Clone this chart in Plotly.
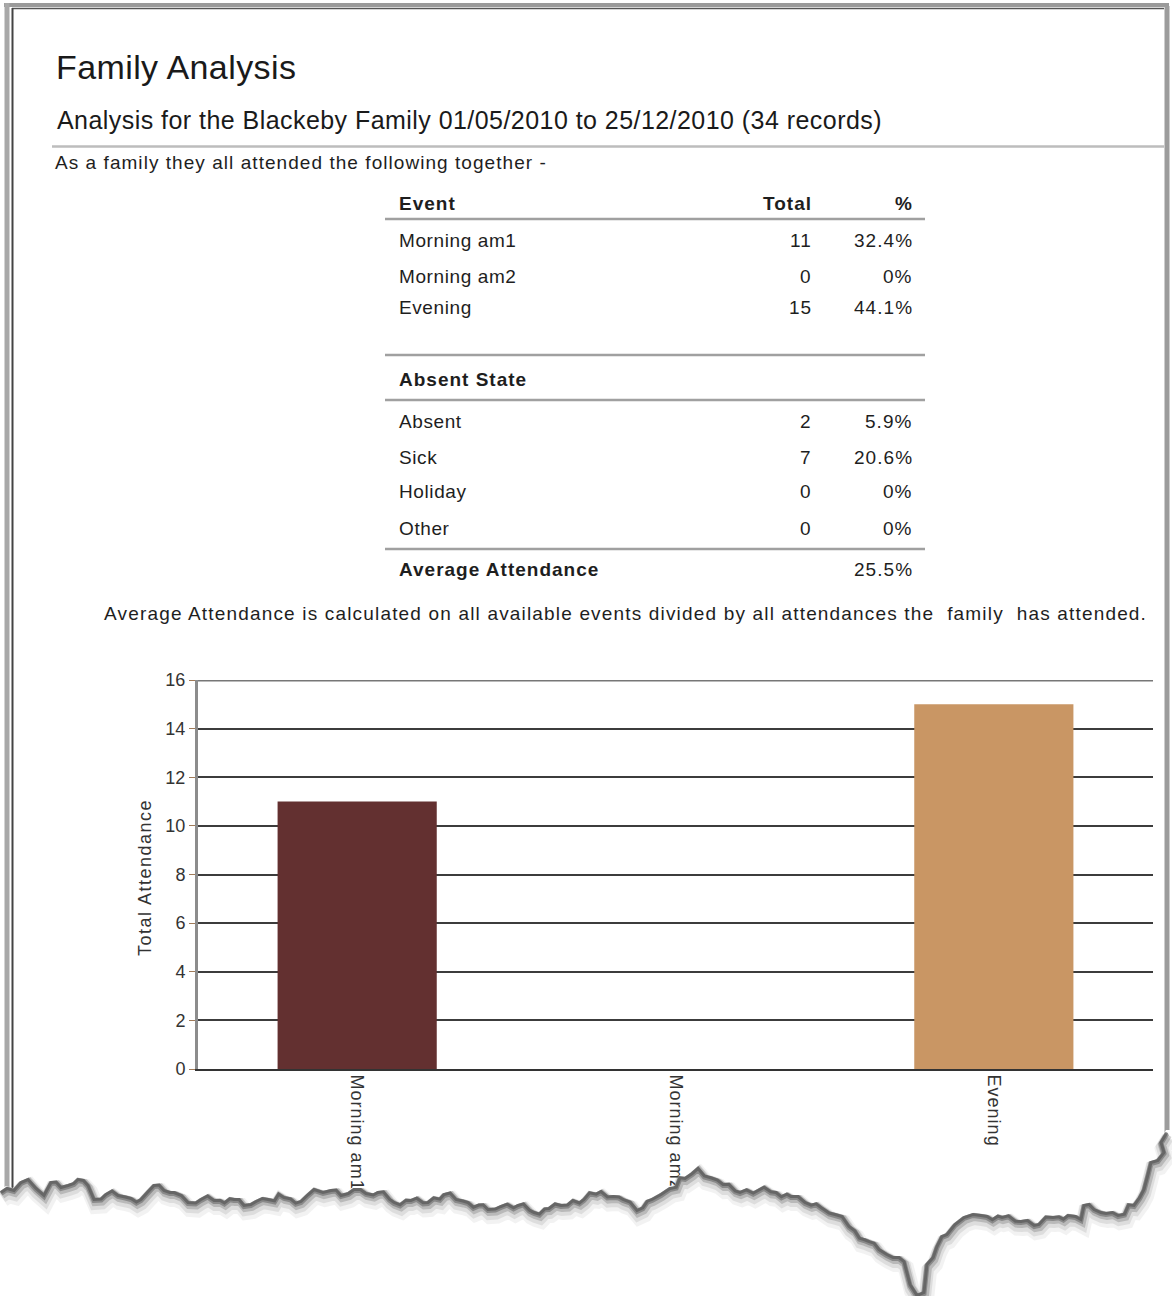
import plotly.graph_objects as go

# ---- report data -------------------------------------------------------
family = "Blackeby"
date_from, date_to = "01/05/2010", "25/12/2010"
records = 34

events = ["Morning am1", "Morning am2", "Evening"]
event_totals = [11, 0, 15]
bar_colors = ["#633030", "#C99664"]  # am2 has no bar drawn (zero)

absent_states = ["Absent", "Sick", "Holiday", "Other"]
absent_totals = [2, 7, 0, 0]

average_attendance = 25.5

y_ticks = [0, 2, 4, 6, 8, 10, 12, 14, 16]

# ---- page geometry (pixels) ---------------------------------------------
W, H = 1172, 1296
PL, PR, PT, PB = 198, 1153, 680, 1069  # chart plotting box


def px(x):
    return (x - PL) / (PR - PL)


def py(y):
    return (PB - y) / (PB - PT)


FONT = "Arial, 'Liberation Sans', sans-serif"
INK = "#1e1e1e"
BODY_SIZE, BODY_LS = 19, 1.05


def pct(v):
    return "0%" if v == 0 else f"{v / records * 100:.1f}%"


def spaced(text, ls):
    return f'<span style="letter-spacing:{ls}px">{text}</span>' if ls else text


annotations = []
shapes = []


def label(x, y, text, size=BODY_SIZE, anchor="left", bold=False, ls=BODY_LS, color=INK, angle=0):
    t = spaced(text, ls)
    if bold:
        t = f"<b>{t}</b>"
    annotations.append(dict(
        x=px(x), y=py(y), xref="paper", yref="paper", text=t, showarrow=False,
        xanchor=anchor, yanchor="middle", textangle=angle,
        font=dict(family=FONT, size=size, color=color), borderpad=0))


def hline(x0, x1, y, color="#a0a0a0", width=2.5):
    shapes.append(dict(type="line", xref="paper", yref="paper",
                       x0=px(x0), x1=px(x1), y0=py(y), y1=py(y),
                       line=dict(color=color, width=width), layer="above"))


def vline(x, y0, y1, color, width):
    shapes.append(dict(type="line", xref="paper", yref="paper",
                       x0=px(x), x1=px(x), y0=py(y0), y1=py(y1),
                       line=dict(color=color, width=width), layer="above"))


# ---- page frame ----------------------------------------------------------
hline(4, 1169, 5, "#9a9a9a", 4)
hline(12, 1164, 8.5, "#555555", 1.5)
vline(7, 3, 1205, "#a8a8a8", 5)
vline(12.5, 8, 1205, "#444444", 2)
vline(1167, 6, 1140, "#9c9c9c", 5)

# ---- headings -------------------------------------------------------------
label(55, 67, "Family Analysis", size=34, ls=0.4, color="#1a1a1a")
label(56, 120, f"Analysis for the {family} Family {date_from} to {date_to} ({records} records)",
      size=25, ls=0.45, color="#1a1a1a")
hline(52, 1164, 146.5, "#bdbdbd", 2.5)
label(54, 162, "As a family they all attended the following together -")

# ---- summary table --------------------------------------------------------
TX0, TX1 = 385, 925
C_NAME, C_TOT, C_PCT = 398, 813, 914

label(C_NAME, 204, "Event", bold=True, ls=1.0)
label(C_TOT, 204, "Total", bold=True, anchor="right", ls=1.0)
label(C_PCT, 204, "%", bold=True, anchor="right", ls=1.0)
hline(TX0, TX1, 219)

for name, tot, y in zip(events, event_totals, [241, 276, 307]):
    label(C_NAME, y, name, ls=0.6)
    label(C_TOT, y, str(tot), anchor="right")
    label(C_PCT, y, pct(tot), anchor="right")

hline(TX0, TX1, 355)
label(C_NAME, 379, "Absent State", bold=True, ls=1.0)
hline(TX0, TX1, 400)

for name, tot, y in zip(absent_states, absent_totals, [421, 457, 491, 528]):
    label(C_NAME, y, name, ls=0.6)
    label(C_TOT, y, str(tot), anchor="right")
    label(C_PCT, y, pct(tot), anchor="right")

hline(TX0, TX1, 549)
label(C_NAME, 569, "Average Attendance", bold=True, ls=1.0)
label(C_PCT, 569, f"{average_attendance:.1f}%", anchor="right")

label(103, 613, "Average Attendance is calculated on all available events divided by all "
                "attendances the  family  has attended.", ls=1.17)

# ---- chart ----------------------------------------------------------------
label(145, 878, "Total Attendance", size=18, angle=-90, anchor="center", color="#333333", ls=1.5)

fig = go.Figure(go.Bar(
    x=events, y=event_totals, width=0.5,
    marker=dict(color=[bar_colors[0], bar_colors[0], bar_colors[1]], line=dict(width=0)),
    hoverinfo="x+y",
))

# top border of the plotting box
shapes.append(dict(type="line", xref="paper", yref="y", x0=0, x1=1, y0=16, y1=16,
                   line=dict(color="#777777", width=3), layer="above"))

# ---- torn lower edge of the page -----------------------------------------
edge = [
    (0, 1190), (6, 1186), (13, 1188), (20, 1180), (27, 1177), (35, 1186), (43, 1193),
    (50, 1180), (60, 1185), (67, 1183), (77, 1177), (87, 1183), (93, 1197), (105, 1192),
    (117, 1193), (130, 1196), (140, 1197), (153, 1183), (163, 1188), (173, 1190),
    (187, 1200), (200, 1197), (213, 1198), (233, 1197), (243, 1203), (255, 1199),
    (267, 1197), (283, 1195), (300, 1199), (313, 1187), (322, 1190), (330, 1188),
    (340, 1193), (353, 1187), (365, 1191), (377, 1190), (393, 1200), (410, 1198),
    (427, 1200), (443, 1192), (455, 1197), (467, 1200), (487, 1207), (500, 1204),
    (517, 1203), (533, 1210), (548, 1206), (560, 1203), (583, 1197), (600, 1189),
    (612, 1194), (622, 1197), (636, 1208), (651, 1197), (660, 1192), (669, 1186),
    (684, 1176), (697, 1166), (709, 1175), (722, 1182), (739, 1190), (757, 1188),
    (775, 1190), (790, 1194), (804, 1200), (820, 1205), (834, 1212), (848, 1224),
    (863, 1237), (878, 1247), (892, 1255), (903, 1259), (909, 1282), (916, 1293),
    (923, 1290), (926, 1262), (936, 1244), (946, 1232), (954, 1222), (963, 1215),
    (972, 1212), (986, 1214), (1001, 1215), (1020, 1219), (1038, 1222), (1052, 1215),
    (1067, 1213), (1080, 1217), (1083, 1203), (1093, 1207), (1105, 1211), (1117, 1213),
    (1133, 1203), (1143, 1187), (1147, 1172), (1150, 1160), (1163, 1150), (1160, 1140),
    (1166, 1130),
]

# fine ragged fibres along the tear: a fixed repeating step pattern
RAG = [(0, -3), (2, 1), (1, -2), (3, 2), (0, -4), (2, 0), (1, 3), (2, -1)]


def ragged(points):
    out = [points[0]]
    k = 0
    for (x0, y0), (x1, y1) in zip(points, points[1:]):
        n = max(1, int(abs(x1 - x0) // 5))
        for i in range(1, n):
            t = i / n
            ox, oy = RAG[k % len(RAG)]
            k += 1
            out.append((x0 + (x1 - x0) * t + ox * 0.4, y0 + (y1 - y0) * t + oy))
        out.append((x1, y1))
    return out


rough = ragged(edge)


def edge_path(dx=0.0, dy=0.0):
    return "M " + " L ".join(f"{px(x + dx)},{py(y + dy)}" for x, y in rough)


cover = edge_path() + f" L {px(W)},{py(1130)} L {px(W)},{py(H)} L {px(0)},{py(H)} Z"
shapes.append(dict(type="path", xref="paper", yref="paper", path=cover,
                   fillcolor="white", line=dict(width=0), layer="above"))
for dx, dy, w, op in [(3, 9, 16, 0.07), (2, 7, 12, 0.12), (2, 5, 8, 0.25),
                      (1, 3.5, 5, 0.45), (1, 2.5, 3, 0.6)]:
    shapes.append(dict(type="path", xref="paper", yref="paper", path=edge_path(dx, dy),
                       line=dict(color="#505050", width=w), opacity=op, layer="above"))

fig.update_layout(
    width=W, height=H, autosize=False,
    margin=dict(l=PL, r=W - PR, t=PT, b=H - PB, pad=0),
    paper_bgcolor="white", plot_bgcolor="white",
    showlegend=False, bargap=0.5,
    font=dict(family=FONT, size=18, color="#333333"),
    annotations=annotations, shapes=shapes,
)
fig.update_xaxes(
    type="category", range=[-0.5, 2.5], showgrid=False, zeroline=False,
    showline=True, linecolor="#333333", linewidth=2, ticks="",
    tickangle=90, tickvals=events, ticktext=[spaced(e, 1.0) for e in events],
    tickfont=dict(family=FONT, size=18, color="#333333"),
)
fig.update_yaxes(
    range=[0, 16], tickvals=y_ticks, showgrid=True, gridcolor="#3c3c3c", gridwidth=1.5,
    zeroline=False, showline=True, linecolor="#8c8c8c", linewidth=3,
    ticks="outside", ticklen=6, tickwidth=1, tickcolor="#a07a58",
    tickfont=dict(family=FONT, size=18, color="#333333"),
)

fig.write_html("out.html")
